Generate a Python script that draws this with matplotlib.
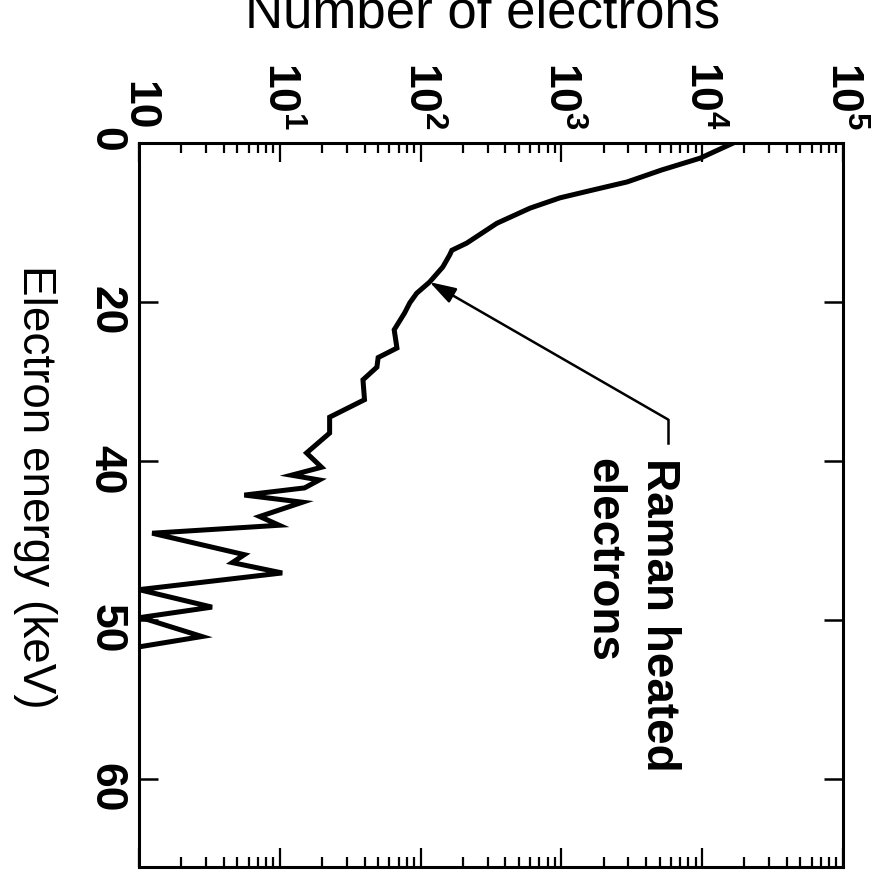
import matplotlib
matplotlib.use("Agg")
import matplotlib.pyplot as plt
from matplotlib.ticker import LogLocator, NullFormatter, NullLocator

plt.rcParams['font.family'] = ['Liberation Sans', 'DejaVu Sans']
plt.rcParams['mathtext.fontset'] = 'custom'
plt.rcParams['mathtext.rm'] = 'Liberation Sans'
plt.rcParams['mathtext.bf'] = 'Liberation Sans:bold'

# spectrum (energy in axis units, number of electrons)
energy = [0.0, 1.9, 3.4, 4.9, 5.9, 6.9, 8.2, 10.1, 12.6, 13.5, 14.1, 15.6,
          17.5, 18.9, 20.1, 21.4, 23.5, 25.8, 27.0, 28.2, 29.8, 32.3, 34.5,
          36.5, 39.0, 40.8, 41.8, 42.4, 43.4, 44.3, 45.2, 47.0, 48.1, 49.1,
          51.8, 52.8, 54.1, 56.2, 58.4, 59.7, 62.1, 63.4]
electrons = [16700, 9740, 5160, 2940, 1690, 980, 600, 349, 213, 167, 161, 144,
             116, 94, 84, 77, 65, 68, 50, 49, 39, 40, 22.6,
             22.6, 15.5, 19.8, 12.1, 19.1, 15.0, 5.6, 14.5, 7.2, 9.9, 1.24,
             5.6, 4.6, 10.4, 1.0, 3.3, 1.03, 2.8, 1.0]

energy_ticks = [0, 20, 40, 60, 80]
energy_labels = ['0', '20', '40', '50', '60']
count_ticks = [1, 10, 100, 1e3, 1e4, 1e5]
count_labels = ['10', r'$\mathbf{10^{1}}$', r'$\mathbf{10^{2}}$',
                r'$\mathbf{10^{3}}$', r'$\mathbf{10^{4}}$', r'$\mathbf{10^{5}}$']

# annotation layout (data coords)
arrow_tip = (116, 17.5)
elbow = (5750, 34.8)
elbow_end = (5750, 37.7)
note_anchor = (1985, 39.6)   # baseline of the last line, start of text

fig = plt.figure(figsize=(8.93, 8.74), dpi=100)
ax = fig.add_axes([0.1557, 0.008, 0.788, 0.8284])

ax.plot(electrons, energy, color='k', lw=3.6, solid_joinstyle='miter')

ax.set_xscale('log')
ax.set_xlim(1, 1e5)
ax.set_ylim(91.1, 0)

ax.set_xticks(count_ticks, count_labels)
ax.xaxis.set_minor_locator(LogLocator(base=10, subs=range(2, 10), numticks=20))
ax.xaxis.set_minor_formatter(NullFormatter())
ax.tick_params(axis='x', which='both', direction='in', top=True, bottom=True,
               labeltop=True, labelbottom=False, width=1.6)
ax.tick_params(axis='x', which='major', length=14, labelsize=32,
               labelrotation=-90, pad=9)
ax.tick_params(axis='x', which='minor', length=7)

ax.set_yticks(energy_ticks, energy_labels)
ax.yaxis.set_minor_locator(NullLocator())
ax.tick_params(axis='y', direction='in', left=True, right=True, length=14,
               width=1.8, labelsize=32, labelrotation=-90, pad=9)

for lbl in ax.get_xticklabels() + ax.get_yticklabels():
    lbl.set_fontweight('bold')

for sp in ax.spines.values():
    sp.set_linewidth(2.2)

ax.annotate('', xy=arrow_tip, xytext=elbow,
            arrowprops=dict(arrowstyle='-|>,head_length=0.8,head_width=0.25',
                            color='k', lw=1.8, mutation_scale=20,
                            shrinkA=0, shrinkB=0))
ax.plot([elbow[0], elbow_end[0]], [elbow[1], elbow_end[1]], color='k', lw=1.8)
ax.text(note_anchor[0], note_anchor[1], 'Raman heated\nelectrons',
        rotation=-90, rotation_mode='anchor', ha='left', va='baseline',
        fontsize=33, fontweight='bold', linespacing=1.35)

fig.text(0.54, 0.968, 'Number of electrons', ha='center', va='baseline',
         fontsize=38)
fig.text(0.039, 0.443, 'Electron energy (keV)', rotation=-90,
         ha='center', va='center', fontsize=33)

fig.savefig('out.png', dpi=100)
